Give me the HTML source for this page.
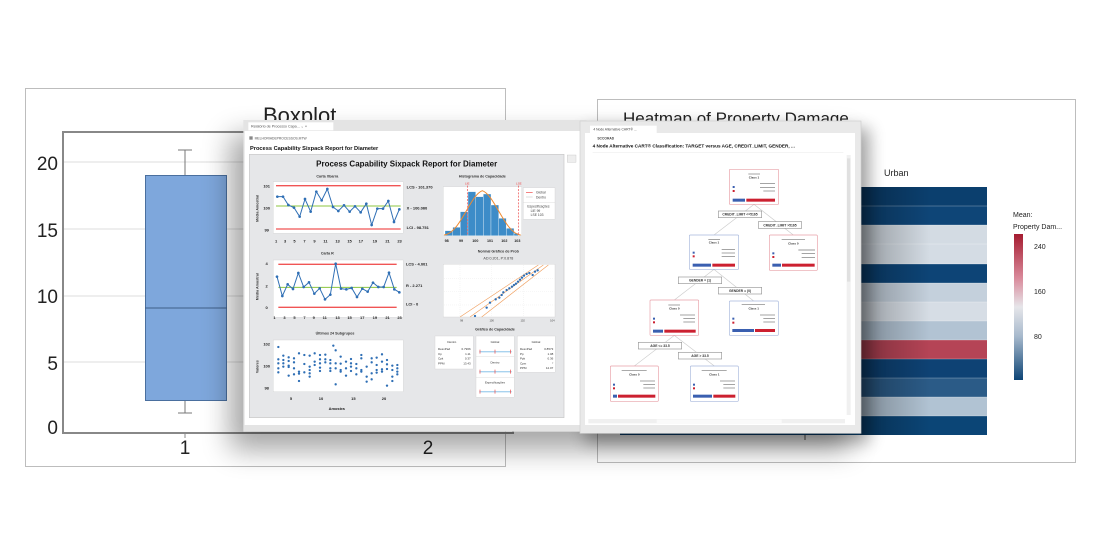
<!DOCTYPE html>
<html><head><meta charset="utf-8"><style>
html,body{margin:0;padding:0;background:#fff;}
svg{display:block;font-family:"Liberation Sans",sans-serif;}
</style></head><body>
<svg width="1104" height="556" viewBox="0 0 1104 556" xmlns="http://www.w3.org/2000/svg">
<defs>
<filter id="sh" x="-30%" y="-30%" width="160%" height="160%"><feGaussianBlur stdDeviation="14"/></filter>
<filter id="sh2" x="-30%" y="-30%" width="160%" height="160%"><feGaussianBlur stdDeviation="8"/></filter>
<linearGradient id="hs" x1="0" x2="1"><stop offset="0" stop-color="#000" stop-opacity="0.3"/><stop offset="1" stop-color="#000" stop-opacity="0"/></linearGradient>
<linearGradient id="leg" x1="0" y1="0" x2="0" y2="1"><stop offset="0" stop-color="#a51c30"/><stop offset="0.3" stop-color="#d9899a"/><stop offset="0.5" stop-color="#e6e6ea"/><stop offset="0.7" stop-color="#a7b9cc"/><stop offset="1" stop-color="#0d4476"/></linearGradient>
</defs>
<rect width="1104" height="556" fill="#fff"/>

<!-- Boxplot window -->
<rect x="25.5" y="88.5" width="480" height="378" fill="#fff" stroke="#bdbdbd"/>
<text x="263" y="123" font-size="22" fill="#222">Boxplot</text>
<g stroke="#dcdcdc" stroke-width="1">
<line x1="63" y1="162" x2="505" y2="162"/><line x1="63" y1="229" x2="505" y2="229"/><line x1="63" y1="296" x2="505" y2="296"/><line x1="63" y1="362" x2="505" y2="362"/>
</g>
<rect x="63" y="132" width="450" height="301" fill="none" stroke="#888" stroke-width="2"/>
<line x1="185" y1="150" x2="185" y2="175" stroke="#777"/><line x1="185" y1="400" x2="185" y2="413" stroke="#777"/>
<line x1="178" y1="150" x2="192" y2="150" stroke="#777"/><line x1="178" y1="413" x2="192" y2="413" stroke="#777"/>
<rect x="145.5" y="175.5" width="81" height="225" fill="#7ea7dc" stroke="#4a6f9e"/>
<line x1="145" y1="308" x2="227" y2="308" stroke="#3f5f88"/>
<g font-size="19" fill="#222" text-anchor="end">
<text x="58" y="170">20</text><text x="58" y="237">15</text><text x="58" y="303">10</text><text x="58" y="370">5</text><text x="58" y="434">0</text></g>
<g font-size="19" fill="#222" text-anchor="middle"><text x="185" y="454">1</text><text x="428" y="454">2</text></g>
<line x1="185" y1="433" x2="185" y2="438" stroke="#888"/>

<!-- Heatmap window -->
<rect x="597.5" y="99.5" width="478" height="363" fill="#fff" stroke="#bdbdbd"/>
<text x="623" y="124" font-size="17" fill="#222">Heatmap of Property Damage</text>
<text x="884" y="176" font-size="9" fill="#222">Urban</text>
<g>
<rect x="620" y="187" width="367" height="19" fill="#0b3f6e"/>
<rect x="620" y="206" width="367" height="19" fill="#0e4577"/>
<rect x="620" y="225" width="367" height="19" fill="#d3dbe3"/>
<rect x="620" y="244" width="367" height="20" fill="#d4dce4"/>
<rect x="620" y="264" width="367" height="19" fill="#0d4476"/>
<rect x="620" y="283" width="367" height="19" fill="#c4d0dc"/>
<rect x="620" y="302" width="367" height="19" fill="#d6dde5"/>
<rect x="620" y="321" width="367" height="19" fill="#b2c3d3"/>
<rect x="620" y="340" width="367" height="19" fill="#b54456"/>
<rect x="620" y="359" width="367" height="19" fill="#0e4274"/>
<rect x="620" y="378" width="367" height="19" fill="#2b5b87"/>
<rect x="620" y="397" width="367" height="19" fill="#b1c3d3"/>
<rect x="620" y="416" width="367" height="19" fill="#0b4576"/>
</g>
<g stroke="#fff" stroke-opacity="0.5" stroke-width="0.6">
<line x1="620" y1="206" x2="987" y2="206"/><line x1="620" y1="225" x2="987" y2="225"/><line x1="620" y1="244" x2="987" y2="244"/><line x1="620" y1="264" x2="987" y2="264"/><line x1="620" y1="283" x2="987" y2="283"/><line x1="620" y1="302" x2="987" y2="302"/><line x1="620" y1="321" x2="987" y2="321"/><line x1="620" y1="340" x2="987" y2="340"/><line x1="620" y1="359" x2="987" y2="359"/><line x1="620" y1="378" x2="987" y2="378"/><line x1="620" y1="397" x2="987" y2="397"/><line x1="620" y1="416" x2="987" y2="416"/></g>
<rect x="860" y="187" width="70" height="248" fill="url(#hs)"/>
<line x1="805" y1="435" x2="805" y2="440" stroke="#555"/>
<text x="1013" y="217" font-size="7" fill="#222">Mean:</text>
<text x="1013" y="229" font-size="7" fill="#222">Property Dam...</text>
<rect x="1014" y="234" width="9" height="146" fill="url(#leg)"/>
<g font-size="7" fill="#222"><text x="1034" y="249">240</text><text x="1034" y="294">160</text><text x="1034" y="339">80</text></g>

<!-- shadows -->
<rect x="230" y="135" width="620" height="315" fill="#000" opacity="0.35" filter="url(#sh)"/>
<rect x="585" y="128" width="285" height="315" fill="#000" opacity="0.3" filter="url(#sh2)"/>

<!-- Sixpack window in zoom coords -->
<g transform="translate(240,115) scale(0.33333)">
<rect x="10" y="15" width="1030" height="935" fill="#e4e4e4"/>
<rect x="25" y="22" width="255" height="24" fill="#fff"/>
<text x="33" y="38" font-size="11" fill="#555">Relatório de Processo Capa...   ⌄ ×</text>
<rect x="14" y="48" width="1026" height="882" fill="#fff"/>
<rect x="28" y="64" width="10" height="10" fill="#888"/>
<text x="44" y="74" font-size="10" fill="#555">MELHORIADEPROCESSOS.MTW</text>
<text x="30" y="105" font-size="17" font-weight="bold" fill="#111">Process Capability Sixpack Report for Diameter</text>
<rect x="28" y="118" width="944" height="790" fill="#e6e7e9" stroke="#c8c8c8" stroke-width="2"/>
<rect x="982" y="120" width="26" height="22" fill="#eee" stroke="#bbb"/>
<text x="500" y="155" font-size="24" font-weight="bold" fill="#111" text-anchor="middle">Process Capability Sixpack Report for Diameter</text>

<!-- Xbar -->
<text x="262" y="188" font-size="11" font-weight="bold" fill="#333" text-anchor="middle">Carta Xbarra</text>
<rect x="100" y="200" width="390" height="155" fill="#fff" stroke="#ccc"/>
<line x1="108" y1="212" x2="482" y2="212" stroke="#f05555" stroke-width="4"/>
<line x1="108" y1="273" x2="482" y2="273" stroke="#8cc63f" stroke-width="3"/>
<line x1="108" y1="342" x2="482" y2="342" stroke="#f05555" stroke-width="4"/>
<polyline fill="none" stroke="#2f6fb5" stroke-width="3" points="112,245 129,245 145,270 162,278 179,305 195,252 212,290 229,230 245,256 262,222 279,276 295,288 312,271 329,290 345,274 362,292 379,266 395,330 412,281 429,281 445,258 462,321 478,283"/>
<g fill="#2f6fb5"><circle cx="112" cy="245" r="4"/><circle cx="129" cy="245" r="4"/><circle cx="145" cy="270" r="4"/><circle cx="162" cy="278" r="4"/><circle cx="179" cy="305" r="4"/><circle cx="195" cy="252" r="4"/><circle cx="212" cy="290" r="4"/><circle cx="229" cy="230" r="4"/><circle cx="245" cy="256" r="4"/><circle cx="262" cy="222" r="4"/><circle cx="279" cy="276" r="4"/><circle cx="295" cy="288" r="4"/><circle cx="312" cy="271" r="4"/><circle cx="329" cy="290" r="4"/><circle cx="345" cy="274" r="4"/><circle cx="362" cy="292" r="4"/><circle cx="379" cy="266" r="4"/><circle cx="395" cy="330" r="4"/><circle cx="412" cy="281" r="4"/><circle cx="429" cy="281" r="4"/><circle cx="445" cy="258" r="4"/><circle cx="462" cy="321" r="4"/><circle cx="478" cy="283" r="4"/></g>
<g font-size="12" font-weight="bold" fill="#222">
<text x="500" y="220">LCS - 101.370</text><text x="500" y="283">X - 100.060</text><text x="500" y="342">LCI - 98.751</text>
<text x="80" y="218" text-anchor="middle">101</text><text x="80" y="284" text-anchor="middle">100</text><text x="80" y="349" text-anchor="middle">99</text>
<text x="105" y="382">1</text><text x="132" y="382">3</text><text x="160" y="382">5</text><text x="190" y="382">7</text><text x="220" y="382">9</text><text x="250" y="382">11</text><text x="286" y="382">13</text><text x="322" y="382">15</text><text x="356" y="382">17</text><text x="398" y="382">19</text><text x="436" y="382">21</text><text x="472" y="382">23</text>
</g>
<text transform="translate(55,280) rotate(-90)" font-size="11" font-weight="bold" fill="#333" text-anchor="middle">Média Amostral</text>

<!-- R chart -->
<text x="262" y="418" font-size="11" font-weight="bold" fill="#333" text-anchor="middle">Carta R</text>
<rect x="100" y="435" width="390" height="172" fill="#fff" stroke="#ccc"/>
<line x1="115" y1="448" x2="470" y2="448" stroke="#f05555" stroke-width="4"/>
<line x1="115" y1="517" x2="470" y2="517" stroke="#8cc63f" stroke-width="3"/>
<line x1="115" y1="577" x2="470" y2="577" stroke="#f05555" stroke-width="4"/>
<polyline fill="none" stroke="#2f6fb5" stroke-width="3" points="111,485 127,543 143,508 159,522 175,474 191,516 207,502 223,536 239,520 255,553 271,539 287,446 303,521 319,523 335,519 351,546 367,521 383,530 399,503 415,516 431,516 447,473 463,523 478,532"/>
<g fill="#2f6fb5"><circle cx="111" cy="485" r="4"/><circle cx="127" cy="543" r="4"/><circle cx="143" cy="508" r="4"/><circle cx="159" cy="522" r="4"/><circle cx="175" cy="474" r="4"/><circle cx="191" cy="516" r="4"/><circle cx="207" cy="502" r="4"/><circle cx="223" cy="536" r="4"/><circle cx="239" cy="520" r="4"/><circle cx="255" cy="553" r="4"/><circle cx="271" cy="539" r="4"/><circle cx="287" cy="446" r="4"/><circle cx="303" cy="521" r="4"/><circle cx="319" cy="523" r="4"/><circle cx="335" cy="519" r="4"/><circle cx="351" cy="546" r="4"/><circle cx="367" cy="521" r="4"/><circle cx="383" cy="530" r="4"/><circle cx="399" cy="503" r="4"/><circle cx="415" cy="516" r="4"/><circle cx="431" cy="516" r="4"/><circle cx="447" cy="473" r="4"/><circle cx="463" cy="523" r="4"/><circle cx="478" cy="532" r="4"/></g>
<g font-size="12" font-weight="bold" fill="#222">
<text x="498" y="452">LCS - 4.001</text><text x="498" y="516">R - 2.271</text><text x="498" y="572">LCI - 0</text>
<text x="80" y="450" text-anchor="middle">4</text><text x="80" y="518" text-anchor="middle">2</text><text x="80" y="582" text-anchor="middle">0</text>
<text x="100" y="612">1</text><text x="130" y="612">3</text><text x="160" y="612">5</text><text x="190" y="612">7</text><text x="218" y="612">9</text><text x="248" y="612">11</text><text x="286" y="612">13</text><text x="322" y="612">15</text><text x="360" y="612">17</text><text x="398" y="612">19</text><text x="436" y="612">21</text><text x="472" y="612">23</text>
</g>
<text transform="translate(55,515) rotate(-90)" font-size="11" font-weight="bold" fill="#333" text-anchor="middle">Média Amostral</text>

<!-- Last 24 -->
<text x="285" y="658" font-size="11" font-weight="bold" fill="#333" text-anchor="middle">Últimos 24 Subgrupos</text>
<rect x="100" y="675" width="390" height="155" fill="#fff" stroke="#ccc"/>
<g fill="#2f6fb5">
<circle cx="115" cy="696" r="3.5"/><circle cx="115" cy="733" r="3.5"/><circle cx="115" cy="745" r="3.5"/><circle cx="115" cy="760" r="3.5"/><circle cx="115" cy="772" r="3.5"/>
<circle cx="130" cy="722" r="3.5"/><circle cx="130" cy="735" r="3.5"/><circle cx="130" cy="745" r="3.5"/><circle cx="130" cy="755" r="3.5"/>
<circle cx="146" cy="727" r="3.5"/><circle cx="146" cy="738" r="3.5"/><circle cx="146" cy="752" r="3.5"/><circle cx="146" cy="756" r="3.5"/><circle cx="146" cy="782" r="3.5"/>
<circle cx="162" cy="730" r="3.5"/><circle cx="162" cy="742" r="3.5"/><circle cx="162" cy="760" r="3.5"/><circle cx="162" cy="778" r="3.5"/>
<circle cx="177" cy="715" r="3.5"/><circle cx="177" cy="770" r="3.5"/><circle cx="177" cy="776" r="3.5"/><circle cx="177" cy="798" r="3.5"/>
<circle cx="193" cy="720" r="3.5"/><circle cx="193" cy="747" r="3.5"/><circle cx="193" cy="772" r="3.5"/>
<circle cx="209" cy="722" r="3.5"/><circle cx="209" cy="755" r="3.5"/><circle cx="209" cy="765" r="3.5"/><circle cx="209" cy="775" r="3.5"/><circle cx="209" cy="785" r="3.5"/>
<circle cx="224" cy="715" r="3.5"/><circle cx="224" cy="740" r="3.5"/><circle cx="224" cy="750" r="3.5"/>
<circle cx="240" cy="720" r="3.5"/><circle cx="240" cy="733" r="3.5"/><circle cx="240" cy="745" r="3.5"/><circle cx="240" cy="758" r="3.5"/><circle cx="240" cy="768" r="3.5"/>
<circle cx="256" cy="719" r="3.5"/><circle cx="256" cy="733" r="3.5"/><circle cx="256" cy="742" r="3.5"/>
<circle cx="271" cy="735" r="3.5"/><circle cx="271" cy="745" r="3.5"/><circle cx="271" cy="760" r="3.5"/><circle cx="271" cy="768" r="3.5"/>
<circle cx="280" cy="692" r="3.5"/><circle cx="287" cy="706" r="3.5"/><circle cx="287" cy="745" r="3.5"/><circle cx="287" cy="760" r="3.5"/><circle cx="287" cy="808" r="3.5"/>
<circle cx="302" cy="725" r="3.5"/><circle cx="302" cy="746" r="3.5"/><circle cx="302" cy="765" r="3.5"/><circle cx="302" cy="770" r="3.5"/>
<circle cx="318" cy="740" r="3.5"/><circle cx="318" cy="760" r="3.5"/><circle cx="318" cy="782" r="3.5"/>
<circle cx="333" cy="732" r="3.5"/><circle cx="333" cy="745" r="3.5"/><circle cx="333" cy="755" r="3.5"/><circle cx="333" cy="768" r="3.5"/>
<circle cx="349" cy="747" r="3.5"/><circle cx="349" cy="760" r="3.5"/><circle cx="349" cy="778" r="3.5"/>
<circle cx="364" cy="720" r="3.5"/><circle cx="364" cy="730" r="3.5"/><circle cx="364" cy="765" r="3.5"/><circle cx="364" cy="770" r="3.5"/>
<circle cx="380" cy="755" r="3.5"/><circle cx="380" cy="785" r="3.5"/><circle cx="380" cy="800" r="3.5"/>
<circle cx="395" cy="730" r="3.5"/><circle cx="395" cy="742" r="3.5"/><circle cx="395" cy="775" r="3.5"/><circle cx="395" cy="793" r="3.5"/>
<circle cx="410" cy="728" r="3.5"/><circle cx="410" cy="750" r="3.5"/><circle cx="410" cy="765" r="3.5"/><circle cx="410" cy="773" r="3.5"/>
<circle cx="426" cy="718" r="3.5"/><circle cx="426" cy="740" r="3.5"/><circle cx="426" cy="763" r="3.5"/><circle cx="426" cy="770" r="3.5"/>
<circle cx="441" cy="735" r="3.5"/><circle cx="441" cy="748" r="3.5"/><circle cx="441" cy="762" r="3.5"/><circle cx="441" cy="812" r="3.5"/>
<circle cx="457" cy="752" r="3.5"/><circle cx="457" cy="765" r="3.5"/><circle cx="457" cy="785" r="3.5"/><circle cx="457" cy="798" r="3.5"/>
<circle cx="472" cy="750" r="3.5"/><circle cx="472" cy="760" r="3.5"/><circle cx="472" cy="770" r="3.5"/><circle cx="472" cy="778" r="3.5"/>
</g>
<g font-size="12" font-weight="bold" fill="#222">
<text x="80" y="692" text-anchor="middle">102</text><text x="80" y="758" text-anchor="middle">100</text><text x="80" y="823" text-anchor="middle">98</text>
<text x="153" y="855" text-anchor="middle">5</text><text x="243" y="855" text-anchor="middle">10</text><text x="340" y="855" text-anchor="middle">15</text><text x="432" y="855" text-anchor="middle">20</text>
<text x="290" y="885" text-anchor="middle">Amostra</text></g>
<text transform="translate(55,755) rotate(-90)" font-size="11" font-weight="bold" fill="#333" text-anchor="middle">Valores</text>

<!-- Histogram -->
<text x="727" y="188" font-size="11" font-weight="bold" fill="#333" text-anchor="middle">Histograma de Capacidade</text>
<rect x="610" y="215" width="235" height="147" fill="#fff" stroke="#ccc"/>
<g fill="#3d8cc8" stroke="#fff" stroke-width="1">
<rect x="615" y="347" width="23" height="15"/><rect x="638" y="337" width="23" height="25"/><rect x="661" y="290" width="23" height="72"/><rect x="684" y="230" width="23" height="132"/><rect x="707" y="245" width="23" height="117"/><rect x="730" y="237" width="23" height="125"/><rect x="753" y="270" width="23" height="92"/><rect x="776" y="310" width="23" height="52"/><rect x="799" y="340" width="23" height="22"/><rect x="822" y="355" width="13" height="7"/></g>
<path d="M612,360 C660,356 690,240 727,227 C765,240 795,356 842,360" fill="none" stroke="#f08a30" stroke-width="3"/>
<line x1="682" y1="212" x2="682" y2="362" stroke="#e44" stroke-width="2" stroke-dasharray="6,4"/>
<line x1="835" y1="212" x2="835" y2="362" stroke="#e44" stroke-width="2" stroke-dasharray="6,4"/>
<g font-size="9" fill="#e44"><text x="675" y="208">LIE</text><text x="828" y="208">LSE</text></g>
<g font-size="11" font-weight="bold" fill="#222" text-anchor="middle"><text x="620" y="381">98</text><text x="663" y="381">99</text><text x="706" y="381">100</text><text x="750" y="381">101</text><text x="793" y="381">102</text><text x="832" y="381">103</text></g>
<rect x="850" y="218" width="95" height="95" fill="#fff" stroke="#ccc"/>
<line x1="858" y1="232" x2="878" y2="232" stroke="#e44" stroke-width="2"/><line x1="858" y1="246" x2="878" y2="246" stroke="#ccc" stroke-width="2"/>
<g font-size="10" fill="#444"><text x="888" y="236">Global</text><text x="888" y="250">Dentro</text><text x="862" y="277">Especificações</text><text x="872" y="291">LIE  99</text><text x="872" y="303">LSE  103</text></g>
<line x1="850" y1="262" x2="945" y2="262" stroke="#ccc"/>

<!-- Normal prob -->
<text x="775" y="413" font-size="11" font-weight="bold" fill="#333" text-anchor="middle">Normal Gráfico de Prob</text>
<text x="775" y="433" font-size="11" fill="#444" text-anchor="middle">AD:0.201, P:0.878</text>
<rect x="610" y="448" width="335" height="158" fill="#fff" stroke="#ccc"/>
<g stroke="#e6e6e6" stroke-dasharray="3,3"><line x1="660" y1="450" x2="660" y2="604"/><line x1="755" y1="450" x2="755" y2="604"/><line x1="850" y1="450" x2="850" y2="604"/><line x1="612" y1="490" x2="943" y2="490"/><line x1="612" y1="530" x2="943" y2="530"/><line x1="612" y1="570" x2="943" y2="570"/></g>
<g stroke="#f0a060" stroke-width="2" fill="none"><line x1="690" y1="606" x2="910" y2="450"/><line x1="660" y1="606" x2="895" y2="450"/><line x1="725" y1="606" x2="925" y2="450"/></g>
<g fill="#2f6fb5"><circle cx="705" cy="603" r="3.5"/><circle cx="740" cy="578" r="3.5"/><circle cx="750" cy="563" r="3.5"/><circle cx="767" cy="553" r="3.5"/><circle cx="778" cy="548" r="3.5"/><circle cx="785" cy="540" r="3.5"/><circle cx="790" cy="532" r="3.5"/><circle cx="800" cy="525" r="3.5"/><circle cx="808" cy="520" r="3.5"/><circle cx="816" cy="515" r="3.5"/><circle cx="822" cy="510" r="3.5"/><circle cx="828" cy="506" r="3.5"/><circle cx="834" cy="500" r="3.5"/><circle cx="840" cy="494" r="3.5"/><circle cx="846" cy="488" r="3.5"/><circle cx="852" cy="482" r="3.5"/><circle cx="860" cy="477" r="3.5"/><circle cx="868" cy="474" r="3.5"/><circle cx="878" cy="480" r="3.5"/><circle cx="885" cy="470" r="3.5"/><circle cx="893" cy="466" r="3.5"/></g>
<g font-size="8" fill="#444" text-anchor="middle"><text x="665" y="620">98</text><text x="755" y="620">100</text><text x="848" y="620">102</text><text x="937" y="620">104</text></g>

<!-- Capability -->
<text x="765" y="646" font-size="11" font-weight="bold" fill="#333" text-anchor="middle">Gráfico de Capacidade</text>
<rect x="585" y="663" width="115" height="99" fill="#fff" stroke="#ccc"/>
<g font-size="9" fill="#333"><text x="622" y="684">Dentro</text><text x="594" y="705">DesvPad</text><text x="594" y="720">Cp</text><text x="594" y="734">Cpk</text><text x="594" y="748">PPM</text>
<text x="692" y="705" text-anchor="end">0.7966</text><text x="692" y="720" text-anchor="end">1.11</text><text x="692" y="734" text-anchor="end">0.37</text><text x="692" y="748" text-anchor="end">13.43</text></g>
<rect x="708" y="663" width="115" height="184" fill="#fff" stroke="#ccc"/>
<line x1="708" y1="725" x2="823" y2="725" stroke="#ccc"/><line x1="708" y1="787" x2="823" y2="787" stroke="#ccc"/>
<g font-size="9" fill="#333" text-anchor="middle"><text x="765" y="684">Global</text><text x="765" y="745">Dentro</text><text x="765" y="805">Especificações</text></g>
<g stroke="#a9d3ef" stroke-width="4"><line x1="718" y1="710" x2="815" y2="710"/><line x1="718" y1="770" x2="815" y2="770"/><line x1="718" y1="830" x2="815" y2="830"/></g>
<g stroke="#e44" stroke-width="2"><line x1="720" y1="704" x2="720" y2="716"/><line x1="765" y1="704" x2="765" y2="716"/><line x1="812" y1="704" x2="812" y2="716"/><line x1="720" y1="764" x2="720" y2="776"/><line x1="765" y1="764" x2="765" y2="776"/><line x1="812" y1="764" x2="812" y2="776"/><line x1="720" y1="824" x2="720" y2="836"/><line x1="765" y1="824" x2="765" y2="836"/><line x1="812" y1="824" x2="812" y2="836"/></g>
<rect x="832" y="663" width="114" height="109" fill="#fff" stroke="#ccc"/>
<g font-size="9" fill="#333"><text x="875" y="684">Global</text><text x="840" y="705">DesvPad</text><text x="840" y="720">Pp</text><text x="840" y="734">Ppk</text><text x="840" y="748">Cpm</text><text x="840" y="762">PPM</text>
<g text-anchor="end"><text x="940" y="705">0.8573</text><text x="940" y="720">1.08</text><text x="940" y="734">0.36</text><text x="940" y="748">*</text><text x="940" y="762">12.07</text></g></g>
</g>

<!-- CART window in zoom2 coords -->
<g transform="translate(580,95) scale(0.33333)">
<rect x="0" y="78" width="843" height="937" fill="#e9e9e9" stroke="#cfcfcf" stroke-width="2"/>
<rect x="30" y="92" width="200" height="22" fill="#fff"/>
<text x="40" y="107" font-size="10" fill="#444">4 Node Alternative CART® ...</text>
<rect x="15" y="114" width="810" height="876" fill="#fff"/>
<text x="52" y="133" font-size="10" font-weight="bold" fill="#444">SCCORAD</text>
<text x="38" y="158" font-size="14" font-weight="bold" fill="#111">4 Node Alternative CART® Classification: TARGET versus AGE, CREDIT_LIMIT, GENDER, ...</text>
<line x1="38" y1="172" x2="790" y2="172" stroke="#ddd"/>
<rect x="800" y="180" width="12" height="780" fill="#f0f0f0"/><rect x="801" y="190" width="10" height="370" fill="#e0e0e0"/>
<rect x="25" y="972" width="770" height="13" fill="#f0f0f0"/><rect x="230" y="973" width="375" height="11" fill="#fafafa"/>
<g stroke="#ccc" stroke-width="2"><line x1="522" y1="328" x2="402" y2="420"/><line x1="522" y1="328" x2="640" y2="420"/><line x1="402" y1="523" x2="283" y2="615"/><line x1="402" y1="523" x2="521" y2="618"/><line x1="283" y1="721" x2="163" y2="813"/><line x1="283" y1="721" x2="403" y2="813"/></g>
<g fill="#fff" stroke="#999" stroke-width="2"><rect x="415" y="348" width="130" height="20"/><rect x="535" y="380" width="130" height="20"/><rect x="295" y="546" width="130" height="20"/><rect x="415" y="577" width="130" height="20"/><rect x="175" y="742" width="130" height="20"/><rect x="295" y="772" width="130" height="20"/></g>
<g font-size="10" font-weight="bold" fill="#333" text-anchor="middle"><text x="480" y="362">CREDIT_LIMIT &lt;=5165</text><text x="600" y="394">CREDIT_LIMIT &gt;5165</text><text x="360" y="560">GENDER = (1)</text><text x="480" y="591">GENDER = (0)</text><text x="240" y="756">AGE &lt;= 33.5</text><text x="360" y="786">AGE &gt; 33.5</text></g>
<!-- nodes -->
<g stroke-width="2" fill="#fff">
<rect x="448" y="223" width="148" height="105" rx="3" stroke="#e8a0a8"/>
<rect x="328" y="420" width="148" height="103" rx="3" stroke="#a8b8dc"/>
<rect x="568" y="420" width="144" height="106" rx="3" stroke="#e8a0a8"/>
<rect x="210" y="615" width="146" height="106" rx="3" stroke="#e8a0a8"/>
<rect x="448" y="618" width="147" height="103" rx="3" stroke="#a8b8dc"/>
<rect x="91" y="813" width="144" height="106" rx="3" stroke="#e8a0a8"/>
<rect x="331" y="813" width="144" height="106" rx="3" stroke="#a8b8dc"/>
</g>
<g font-size="9" font-weight="bold" fill="#333" text-anchor="middle"><text x="522" y="250">Class 1</text><text x="402" y="446">Class 1</text><text x="640" y="449">Class 0</text><text x="283" y="644">Class 0</text><text x="521" y="644">Class 1</text><text x="163" y="842">Class 0</text><text x="403" y="842">Class 1</text></g>
<g fill="#3a5fb0"><rect x="458" y="311" width="37" height="9"/><rect x="338" y="506" width="55" height="9"/><rect x="577" y="506" width="26" height="9"/><rect x="219" y="704" width="30" height="9"/><rect x="457" y="702" width="65" height="9"/><rect x="99" y="899" width="12" height="9"/><rect x="339" y="899" width="57" height="9"/>
<rect x="458" y="273" width="6" height="6"/><rect x="338" y="470" width="6" height="6"/><rect x="577" y="472" width="6" height="6"/><rect x="219" y="668" width="6" height="6"/><rect x="457" y="668" width="6" height="6"/><rect x="99" y="866" width="6" height="6"/><rect x="339" y="866" width="6" height="6"/></g>
<g fill="#cc2030"><rect x="499" y="311" width="86" height="9"/><rect x="397" y="506" width="68" height="9"/><rect x="606" y="506" width="98" height="9"/><rect x="253" y="704" width="94" height="9"/><rect x="525" y="702" width="60" height="9"/><rect x="114" y="899" width="112" height="9"/><rect x="400" y="899" width="66" height="9"/>
<rect x="458" y="285" width="6" height="6"/><rect x="338" y="481" width="6" height="6"/><rect x="577" y="483" width="6" height="6"/><rect x="219" y="679" width="6" height="6"/><rect x="457" y="680" width="6" height="6"/><rect x="99" y="877" width="6" height="6"/><rect x="339" y="877" width="6" height="6"/></g>
<g stroke="#777" stroke-width="2"><line x1="505" y1="237" x2="540" y2="237"/><line x1="540" y1="266" x2="585" y2="266"/><line x1="540" y1="277" x2="585" y2="277"/><line x1="550" y1="288" x2="585" y2="288"/>
<line x1="385" y1="433" x2="420" y2="433"/><line x1="425" y1="463" x2="465" y2="463"/><line x1="425" y1="474" x2="465" y2="474"/><line x1="425" y1="484" x2="465" y2="484"/>
<line x1="605" y1="433" x2="675" y2="433"/><line x1="655" y1="465" x2="705" y2="465"/><line x1="665" y1="476" x2="705" y2="476"/><line x1="665" y1="487" x2="705" y2="487"/>
<line x1="265" y1="630" x2="300" y2="630"/><line x1="300" y1="660" x2="345" y2="660"/><line x1="310" y1="671" x2="345" y2="671"/><line x1="310" y1="681" x2="345" y2="681"/>
<line x1="485" y1="628" x2="555" y2="628"/><line x1="540" y1="660" x2="585" y2="660"/><line x1="550" y1="671" x2="585" y2="671"/><line x1="550" y1="681" x2="585" y2="681"/>
<line x1="125" y1="826" x2="200" y2="826"/><line x1="180" y1="858" x2="225" y2="858"/><line x1="190" y1="869" x2="225" y2="869"/><line x1="190" y1="879" x2="225" y2="879"/>
<line x1="365" y1="826" x2="440" y2="826"/><line x1="420" y1="858" x2="465" y2="858"/><line x1="430" y1="869" x2="465" y2="869"/><line x1="430" y1="879" x2="465" y2="879"/></g>
</g>
</svg>
</body></html>
